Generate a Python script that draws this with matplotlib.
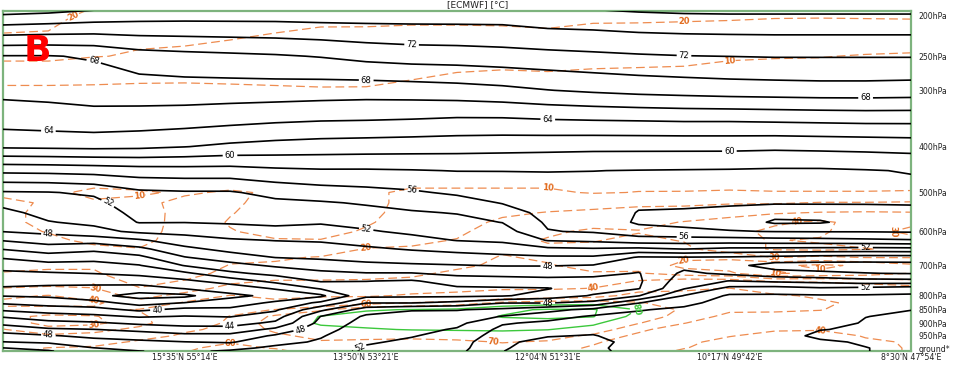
import numpy as np
import matplotlib
matplotlib.use("Agg")
import matplotlib.pyplot as plt

# ---------------- data ----------------
section_x = [0.0, 0.25, 0.5, 0.75, 1.0, 1.25, 1.5, 1.75, 2.0, 2.25, 2.5,
             2.75, 3.0, 3.25, 3.5, 3.75, 4.0, 4.25, 4.5, 4.75, 5.0]

pressure_hpa = [175, 200, 250, 300, 350, 400, 450, 500, 525, 550, 575, 600,
                625, 650, 675, 700, 725, 750, 775, 800, 825, 850, 875, 900,
                925, 950, 975, 1000, 1013.25]

# equivalent potential temperature [°C]  (rows = pressure levels, cols = section_x)
theta_e = [
    [80, 80, 79, 78.5, 78.5, 78.5, 78.3, 78, 77.5, 77.5, 77.5, 77.5, 77.5, 78, 78.5, 79.5, 80, 80, 80, 80, 80],
    [75.8, 75.5, 75.1, 74.8, 74.7, 74.7, 74.7, 74.8, 74.8, 74.8, 74.8, 74.8, 75.2, 75.3, 75.55, 75.65, 75.7, 75.7, 75.7, 75.7, 75.7],
    [67.9, 67.9, 68.2, 69.1, 69.4, 69.6, 69.8, 70.1, 70.6, 70.9, 71.0, 71.2, 71.4, 71.6, 71.8, 71.95, 72.02, 72.1, 72.1, 72.1, 72.1],
    [66.5, 66.6, 66.8, 67.0, 67.1, 67.1, 67.1, 67.0, 66.9, 67.0, 67.2, 67.5, 67.95, 68.3, 68.6, 68.8, 69.0, 69.1, 69.2, 69.2, 69.1],
    [64.9, 65.1, 65.3, 65.1, 64.9, 64.6, 64.3, 64.1, 64.02, 63.9, 63.7, 63.7, 63.9, 64.02, 64.1, 64.2, 64.2, 64.3, 64.4, 64.5, 64.5],
    [62.3, 62.4, 62.5, 62.4, 62.05, 61.6, 61.3, 61.1, 61.0, 60.9, 60.8, 60.7, 60.6, 60.5, 60.5, 60.5, 60.5, 60.4, 60.5, 60.6, 60.75],
    [56.5, 56.6, 56.8, 57.1, 57.2, 57.2, 57.6, 57.8, 57.8, 57.9, 58.05, 58.05, 58.05, 58.02, 57.95, 57.9, 57.85, 57.75, 57.75, 57.9, 58.1],
    [51.8, 51.9, 52.3, 53.6, 53.8, 53.8, 54.6, 55.1, 55.4, 55.75, 56.3, 56.7, 57.3, 57.3, 57.5, 57.4, 57.5, 57.5, 57.5, 57.5, 57.5],
    [50.5, 51.3, 51.5, 53.1, 53.2, 53.3, 53.6, 53.8, 54.2, 54.7, 55.2, 56.1, 57.0, 57.0, 57.7, 57.7, 57.8, 57.8, 57.8, 57.85, 57.85],
    [49.5, 50.6, 50.9, 52.6, 52.6, 52.7, 53.0, 52.9, 53.4, 53.8, 54.1, 55.1, 56.6, 56.7, 58.1, 58.2, 58.4, 59.3, 59.2, 58.8, 58.5],
    [48.7, 49.9, 50.4, 52.1, 52.05, 52.2, 52.4, 52.2, 52.6, 53.1, 53.4, 54.05, 56.3, 56.6, 58.3, 58.6, 58.7, 60.3, 60.2, 59.2, 58.8],
    [48.05, 48.5, 49.4, 50.4, 50.6, 51.1, 51.4, 51.2, 51.8, 52.35, 52.7, 53.1, 55.9, 56.2, 57.1, 57.5, 57.9, 58.05, 58.1, 58.1, 58.2],
    [46.1, 46.9, 46.8, 47.7, 49.1, 49.75, 50.05, 50.2, 50.7, 51.4, 52.05, 52.3, 54.1, 54.4, 55.1, 55.1, 55.1, 55.3, 55.4, 55.6, 55.8],
    [44.1, 45.0, 44.5, 45.5, 47.5, 48.6, 49.05, 49.2, 49.7, 50.15, 50.6, 51.05, 51.6, 51.8, 51.55, 52.05, 51.55, 51.5, 51.4, 51.3, 51.4],
    [42.2, 43.05, 42.7, 43.5, 45.9, 47.05, 48.05, 48.3, 48.7, 49.05, 49.2, 49.45, 49.7, 49.7, 47.8, 47.9, 47.8, 47.5, 47.2, 47.1, 47.1],
    [40.8, 41.3, 41.3, 41.9, 44.1, 45.3, 46.3, 47.05, 47.5, 47.7, 47.9, 48.1, 48.1, 47.9, 46.7, 47.4, 46.6, 45.2, 45.2, 45.2, 45.3],
    [39.6, 39.8, 40.05, 40.4, 41.6, 43.6, 44.6, 45.5, 45.9, 45.9, 46.5, 46.7, 46.8, 46.5, 45.9, 48.4, 47.6, 46.7, 46.3, 46.05, 45.9],
    [38.7, 38.6, 38.7, 39.05, 39.6, 40.9, 42.6, 44.2, 44.05, 43.8, 44.9, 45.05, 45.3, 45.4, 45.7, 49.1, 50.05, 49.6, 49.3, 48.7, 48.6],
    [37.8, 37.6, 37.4, 37.05, 38.1, 38.8, 40.2, 42.2, 43.1, 43.5, 43.7, 43.8, 43.9, 45.1, 45.9, 49.85, 52.6, 52.8, 52.3, 52.6, 53.0],
    [37.9, 37.7, 36.5, 35.3, 35.5, 37.6, 38.4, 39.6, 43.5, 43.6, 43.6, 43.8, 44.8, 46.2, 47.9, 52.1, 54.3, 54.3, 54.2, 54.2, 54.3],
    [39.7, 39.1, 38.8, 37.1, 38.05, 38.8, 40.4, 42.4, 45.9, 45.9, 46.5, 47.9, 47.9, 48.5, 51.9, 53.6, 54.6, 54.6, 54.5, 54.1, 54.2],
    [41.7, 41.1, 40.7, 39.6, 40.6, 40.5, 41.7, 45.5, 49.1, 49.9, 49.9, 50.4, 51.35, 52.6, 53.9, 54.3, 54.8, 54.8, 54.6, 54.02, 54.02],
    [43.8, 42.9, 42.5, 41.8, 42.1, 41.9, 43.05, 48.05, 50.3, 50.5, 50.8, 52.1, 53.2, 54.25, 54.4, 54.7, 55.05, 54.9, 54.6, 54.02, 53.8],
    [45.5, 44.6, 44.3, 43.6, 43.3, 43.2, 44.4, 48.6, 50.8, 51.05, 51.5, 53.8, 54.4, 54.9, 54.7, 55.05, 55.1, 55.05, 54.5, 53.9, 53.6],
    [47.2, 46.3, 46.05, 45.5, 44.8, 44.8, 46.5, 49.2, 51.2, 51.4, 52.2, 54.5, 55.1, 55.55, 55.05, 55.2, 55.2, 55.05, 54.05, 53.8, 53.5],
    [48.7, 48.2, 47.5, 47.1, 46.6, 46.6, 48.3, 49.8, 51.7, 51.9, 52.6, 55.1, 55.9, 56.1, 55.2, 55.3, 55.3, 54.8, 53.6, 53.6, 53.5],
    [50.05, 49.7, 48.8, 48.4, 48.05, 47.8, 49.3, 50.3, 51.8, 52.3, 53.05, 55.7, 56.5, 56.6, 55.3, 55.4, 55.3, 54.6, 54.3, 53.8, 53.5],
    [52.05, 51.4, 50.05, 49.5, 49.1, 49.4, 50.5, 50.8, 52.2, 52.6, 53.3, 55.8, 57.0, 56.3, 55.4, 55.4, 55.3, 54.8, 54.6, 54.05, 53.5],
    [53.0, 52.2, 50.6, 50.05, 49.6, 50.3, 51.0, 51.1, 52.4, 52.8, 53.5, 55.95, 57.2, 56.4, 55.4, 55.4, 55.2, 54.9, 54.7, 54.05, 53.5],
]

# relative humidity [%]
rel_hum = [
    [14, 14, 18, 24, 25, 25, 25, 25, 25, 25, 25, 25, 25, 25, 25, 25, 25, 25, 25, 25, 24],
    [18.5, 18.8, 21, 23, 23, 23, 22, 21.5, 21.5, 21.5, 21.5, 22, 22.5, 21.5, 21.5, 21.3, 21.2, 20.7, 20.6, 20.8, 21],
    [22, 22, 20.3, 19.4, 19, 18, 17.3, 16.1, 16, 15, 15, 14, 14.5, 13.5, 13, 12.5, 11, 10.5, 10.3, 9.5, 9],
    [8, 8, 8, 7.6, 7.5, 8.2, 8.8, 9.35, 9.3, 7.8, 4.5, 4, 4.5, 4, 4, 4, 3.5, 3.5, 3.5, 3.5, 3.5],
    [4, 4, 4, 4, 4, 4, 4, 4, 4, 4, 4, 4, 4, 4, 4, 4, 4, 4, 4, 4, 4],
    [4, 4, 4, 4, 4, 4, 4, 4, 4, 4, 4, 4, 4, 4, 4, 4, 4, 4, 4, 4, 4],
    [6, 6, 6, 6, 6, 6, 6, 6, 6, 6, 6, 6, 6, 6, 6, 5, 6, 5, 5, 5, 5],
    [9, 9, 11, 10.5, 9.5, 10.5, 9.5, 9, 9, 11, 11, 11, 11, 9.5, 10.2, 10.3, 10.5, 10.3, 10.3, 10.3, 10.5],
    [11, 9.5, 9.5, 9, 11, 11, 8, 7, 8, 12, 12.5, 14, 15, 16, 18, 18, 19, 19, 20.5, 20.5, 21],
    [12, 8, 7, 6, 13, 10.4, 7, 6, 8, 13, 14, 18, 20.5, 22, 23, 24, 27, 29, 30.5, 31, 30.5],
    [12, 8, 6, 5, 14, 9.5, 7, 6, 9, 14, 16, 22, 26, 28, 27, 30.5, 33, 38, 42, 36, 32],
    [13, 9.5, 6, 5, 15, 10.4, 8, 7, 11, 16, 18, 25, 29, 31, 30.5, 32, 36, 43, 42, 33, 28],
    [14, 12, 8, 7, 15, 13, 10.5, 10.4, 15, 18, 20.5, 28, 30.5, 30.5, 28, 30.5, 38, 40.5, 39, 35, 33],
    [15, 15, 12, 10.4, 14, 16, 15, 15, 20.5, 21, 24, 29, 29, 28, 25, 28, 36, 41, 42, 40.5, 38],
    [17, 17, 16, 12, 13, 18, 19, 20.5, 23, 24, 27, 30.5, 29, 27, 24, 22, 22, 30.5, 28, 30.5, 30.5],
    [18, 19, 19, 13, 14, 20.4, 21, 23, 26, 27, 29, 31, 30.5, 28, 27, 17, 15, 12, 8, 12, 18],
    [20.4, 21, 21, 15, 16, 23, 25, 26, 28, 29, 31, 32, 31, 30.5, 31, 25, 22, 9, 12, 15, 20.4],
    [24, 25, 25, 17, 20.5, 28, 30.5, 30.5, 30.5, 31, 33, 34, 33, 33, 40.5, 45, 45, 38, 38, 35, 32],
    [30.5, 32, 30.5, 20.5, 26, 33, 34, 33, 32, 34, 36, 38, 38, 40.5, 55, 58, 60.5, 52, 50, 48, 45],
    [38, 40.5, 35, 27, 33, 40.5, 38, 38, 38, 42, 44, 50, 52, 55, 65, 64, 65, 62, 58, 55, 50],
    [42, 43, 42, 33, 41, 47, 42, 50, 55, 60.5, 64, 72, 75, 76, 70.5, 67, 66, 64, 62, 57, 52],
    [38, 37, 38, 40.5, 46, 55, 60.5, 68, 79, 80.5, 82, 88, 91, 91, 79.5, 68, 62, 62, 60.5, 55, 50],
    [33, 28, 29, 38, 48, 60.5, 72, 80.5, 84, 85, 86, 90.5, 92, 90.5, 76, 66, 57, 56, 55, 52, 47],
    [35, 27, 28, 35, 52, 62, 75, 81, 83, 84, 85, 87, 86, 82, 70.5, 60.5, 50, 48, 47, 46, 44],
    [40.5, 33, 35, 44, 58, 63, 72, 78, 79, 80.5, 81, 81.5, 80.3, 76, 63, 52, 44, 41, 40.5, 42, 42],
    [45, 42, 45, 55, 62, 62, 68, 73, 73, 73, 74, 75, 74, 68, 57, 46, 40.5, 37, 37, 40.5, 40.5],
    [50, 52, 55, 62, 64, 60.5, 63, 69, 68, 67, 68, 70.5, 69, 62, 52, 42, 37, 35, 36, 39, 40.5],
    [55, 60.5, 62, 64, 61, 58, 60.5, 66, 65, 64, 65, 67, 66, 58, 48, 40.5, 35, 33, 35, 38, 40.5],
    [57, 62, 63, 63, 60.5, 56, 58, 64, 64, 63, 64, 66, 65, 57, 46, 38, 34, 33, 35, 38, 40.5],
]

theta_levels = list(range(34, 82, 2))
theta_label_levels = [40, 44, 48, 52, 56, 60, 64, 68, 72]
rh_levels = [10, 20, 30, 40, 60, 70]
rh_wet_levels = [80, 90]

level_ticks_hpa = [200, 250, 300, 400, 500, 600, 700, 800, 850, 900, 950, 1000]
level_tick_labels = ["200hPa", "250hPa", "300hPa", "400hPa", "500hPa", "600hPa",
                     "700hPa", "800hPa", "850hPa", "900hPa", "950hPa", "ground*"]
position_ticks = [1, 2, 3, 4, 5]
position_labels = ["15°35'N 55°14'E", "13°50'N 53°21'E", "12°04'N 51°31'E",
                   "10°17'N 49°42'E", "8°30'N 47°54'E"]


# ---------------- helpers ----------------
def height_of_pressure(p):
    """Standard-atmosphere height (m) used as the vertical coordinate."""
    p = np.asarray(p, dtype=float)
    trop = 44330.8 * (1.0 - (p / 1013.25) ** 0.190263)
    strat = 11000.0 + 6341.6 * np.log(226.32 / p)
    return np.where(p >= 226.32, trop, strat)


def spread_label_points(cset, spacing=1.4, min_extent=0.6):
    """Pick label spots along each long contour, staggered by level."""
    pts = []
    for i, lev in enumerate(cset.levels):
        start = 0.22 + ((int(lev) // 4) % 4) * 0.33
        targets = np.arange(start, 4.9, spacing)
        for seg in cset.allsegs[i]:
            if len(seg) < 3:
                continue
            xs = seg[:, 0]
            if xs.max() - xs.min() < min_extent:
                continue
            for t in targets:
                k = int(np.argmin(np.abs(xs - t)))
                if abs(xs[k] - t) < 0.08:
                    pts.append((xs[k], seg[k, 1]))
    return pts


W, H = 958, 365
fig = plt.figure(figsize=(W / 100, H / 100), dpi=100)
ax = fig.add_axes([3 / W, (H - 351.2) / H, 908 / W, (351.2 - 11.3) / H])

X, Y = np.meshgrid(np.array(section_x), height_of_pressure(pressure_hpa))
TE = np.array(theta_e)
RH = np.array(rel_hum)

plt.rcParams["lines.dashed_pattern"] = [7.0, 3.5]

ax.set_xlim(0, 5)
ax.set_ylim(0, 11940)

# orange dashed humidity
co = ax.contour(X, Y, RH, levels=rh_levels, colors="#EE8C50",
                linewidths=0.9, linestyles="dashed", zorder=2)
ot = ax.clabel(co, fmt="%d", fontsize=6, inline=True, inline_spacing=1)
for t in ot:
    t.set_fontweight("bold")
    t.set_color("#E26A1C")

# green wet contours
cg = ax.contour(X, Y, RH, levels=rh_wet_levels, colors="#3CC83C",
                linewidths=1.0, zorder=3)
gt = ax.clabel(cg, levels=[80], fmt="%d", fontsize=6.5, inline=True, inline_spacing=1)
for t in gt:
    t.set_fontweight("bold")
    t.set_color("#3CC83C")

# black theta-e: unlabelled levels and labelled levels drawn separately
plain_levels = [v for v in theta_levels if v not in theta_label_levels]
ax.contour(X, Y, TE, levels=plain_levels, colors="black", linewidths=1.2, zorder=4)
cs = ax.contour(X, Y, TE, levels=theta_label_levels, colors="black",
                linewidths=1.2, zorder=4)
label_pts = spread_label_points(cs)
ax.clabel(cs, fmt="%d", fontsize=6, inline=True, inline_spacing=2,
          manual=label_pts)

ax.set_xticks(position_ticks)
ax.set_xticklabels(position_labels)
ax.yaxis.tick_right()
ax.set_yticks(height_of_pressure(level_ticks_hpa))
ax.set_yticklabels(level_tick_labels)
ax.tick_params(axis="x", length=0, labelsize=5.7, pad=1, colors="#222222")
ax.tick_params(axis="y", length=0, labelsize=5.6, pad=5.5, colors="#222222")

for s in ax.spines.values():
    s.set_color("#7DB37D")
    s.set_linewidth(1.6)

fig.text(478 / W, 1 - 4.5 / H, "[ECMWF] [°C]", ha="center", va="center",
         fontsize=6.5, color="#222222")
fig.text(37 / W, 1 - 51 / H, "B", ha="center", va="center", fontsize=26,
         fontweight="bold", color="red", zorder=10)

fig.savefig("out.png", dpi=100)
